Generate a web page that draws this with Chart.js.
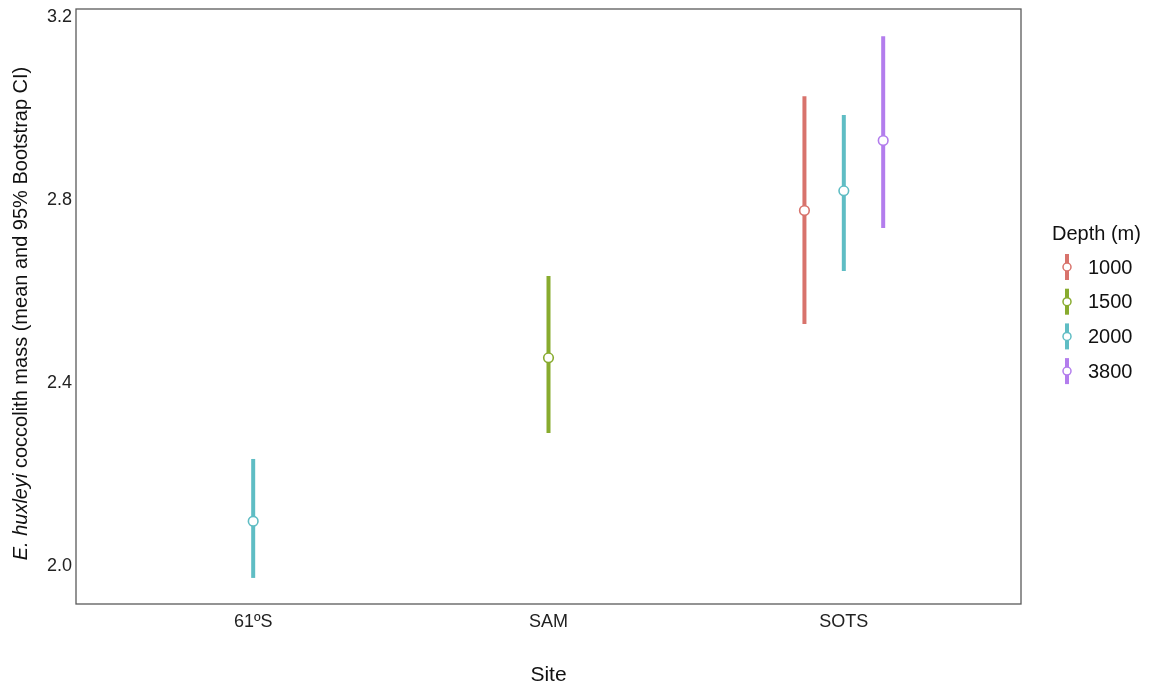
<!DOCTYPE html>
<html>
<head>
<meta charset="utf-8">
<script src="https://cdn.jsdelivr.net/npm/chart.js@4"></script>
<style>
html, body { margin: 0; padding: 0; background: #fff; }
#wrap { width: 1150px; height: 688px; }
</style>
</head>
<body>
<div id="wrap"><canvas id="chart" width="1150" height="688"></canvas></div>
<script>
// data
const sites = ['61ºS', 'SAM', 'SOTS'];
const depths = ['1000', '1500', '2000', '3800'];
const depthColors = ['#d8736c', '#88ab2e', '#5fbdc4', '#b37ded'];

const obsSite  = ['61ºS', 'SAM', 'SOTS', 'SOTS', 'SOTS'];
const obsDepth = ['2000', '1500', '1000', '2000', '3800'];
const meanMass = [2.098, 2.455, 2.777, 2.820, 2.930];
const ciLow    = [1.974, 2.291, 2.529, 2.645, 2.739];
const ciHigh   = [2.234, 2.634, 3.027, 2.986, 3.158];

const yTicks = [2.0, 2.4, 2.8, 3.2];

const FONT = 'Liberation Sans, Arial, sans-serif';
const dodgeWidth = 0.4;

// dodge position for each observation inside its site
const xPos = obsSite.map((s, i) => {
    const group = obsSite.map((t, j) => t === s ? j : -1).filter(j => j >= 0);
    const n = group.length;
    const rank = group.indexOf(i);
    return sites.indexOf(s) + 1 + (rank - (n - 1) / 2) * dodgeWidth / n;
});

const datasets = depths.map((d, k) => {
    const idx = obsDepth.map((t, i) => t === d ? i : -1).filter(i => i >= 0);
    return {
        label: d,
        data: idx.map(i => ({ x: xPos[i], y: meanMass[i], lo: ciLow[i], hi: ciHigh[i] })),
        pointRadius: 4.8,
        pointBorderWidth: 1.6,
        pointBackgroundColor: '#fff',
        pointBorderColor: depthColors[k],
        borderColor: depthColors[k],
        showLine: false
    };
});

// error bars, frame, y title and legend
const extras = {
    id: 'extras',
    beforeDatasetsDraw(chart) {
        const { ctx, scales: { x, y } } = chart;
        ctx.save();
        ctx.lineWidth = 4;
        ctx.lineCap = 'butt';
        chart.data.datasets.forEach(ds => {
            ds.data.forEach(p => {
                const px = x.getPixelForValue(p.x);
                ctx.strokeStyle = ds.borderColor;
                ctx.beginPath();
                ctx.moveTo(px, y.getPixelForValue(p.lo));
                ctx.lineTo(px, y.getPixelForValue(p.hi));
                ctx.stroke();
            });
        });
        ctx.restore();
    },
    afterDraw(chart) {
        const { ctx, chartArea: a } = chart;
        ctx.save();
        // panel border
        ctx.strokeStyle = '#5a5a5a';
        ctx.lineWidth = 1.3;
        ctx.strokeRect(a.left, a.top, a.right - a.left, a.bottom - a.top);

        // y axis title with italic species name
        const it = 'italic 20px ' + FONT;
        const rm = '20px ' + FONT;
        const p1 = 'E. huxleyi', p2 = ' coccolith mass (mean and 95% Bootstrap CI)';
        ctx.font = it; const w1 = ctx.measureText(p1).width;
        ctx.font = rm; const w2 = ctx.measureText(p2).width;
        ctx.translate(21, (a.top + a.bottom) / 2 + 7);
        ctx.rotate(-Math.PI / 2);
        ctx.fillStyle = '#111';
        ctx.textBaseline = 'middle';
        ctx.textAlign = 'left';
        const sx = -(w1 + w2) / 2;
        ctx.font = it; ctx.fillText(p1, sx, 0);
        ctx.font = rm; ctx.fillText(p2, sx + w1, 0);
        ctx.setTransform(1, 0, 0, 1, 0, 0);

        // legend
        ctx.fillStyle = '#111';
        ctx.font = '20px ' + FONT;
        ctx.textBaseline = 'middle';
        ctx.fillText('Depth (m)', 1052, 234);
        depths.forEach((d, k) => {
            const cy = 267 + k * 34.7;
            ctx.strokeStyle = depthColors[k];
            ctx.lineWidth = 4;
            ctx.beginPath();
            ctx.moveTo(1067, cy - 13);
            ctx.lineTo(1067, cy + 13);
            ctx.stroke();
            ctx.beginPath();
            ctx.arc(1067, cy, 4, 0, Math.PI * 2);
            ctx.fillStyle = '#fff';
            ctx.fill();
            ctx.lineWidth = 1.5;
            ctx.stroke();
            ctx.fillStyle = '#111';
            ctx.font = '20px ' + FONT;
            ctx.fillText(d, 1088, cy + 1);
        });
        ctx.restore();
    }
};

new Chart(document.getElementById('chart'), {
    type: 'scatter',
    data: { datasets },
    plugins: [extras],
    options: {
        responsive: false,
        animation: false,
        devicePixelRatio: 1,
        layout: { padding: { left: 0, right: 129, top: 9, bottom: 0 } },
        plugins: { legend: { display: false }, tooltip: { enabled: false } },
        scales: {
            x: {
                type: 'linear',
                min: 0.4,
                max: 3.6,
                grid: { display: false, drawTicks: false },
                border: { display: false },
                afterBuildTicks: s => { s.ticks = sites.map((_, i) => ({ value: i + 1 })); },
                afterFit: s => { s.height = 84; s.paddingLeft = 0; s.paddingRight = 0; },
                ticks: {
                    padding: 7,
                    color: '#222',
                    font: { family: FONT, size: 18 },
                    callback: v => sites[Math.round(v) - 1]
                },
                title: {
                    display: true,
                    text: 'Site',
                    color: '#111',
                    font: { family: FONT, size: 21 },
                    padding: { top: 0, bottom: 0 }
                }
            },
            y: {
                min: 1.917,
                max: 3.2175,
                grid: { display: false, drawTicks: false },
                border: { display: false },
                afterBuildTicks: s => { s.ticks = yTicks.map(v => ({ value: v })); },
                afterFit: s => { s.width = 76; s.paddingTop = 0; s.paddingBottom = 0; },
                ticks: {
                    padding: 4,
                    color: '#222',
                    font: { family: FONT, size: 18 },
                    callback: v => v.toFixed(1)
                }
            }
        }
    }
});
</script>
</body>
</html>
